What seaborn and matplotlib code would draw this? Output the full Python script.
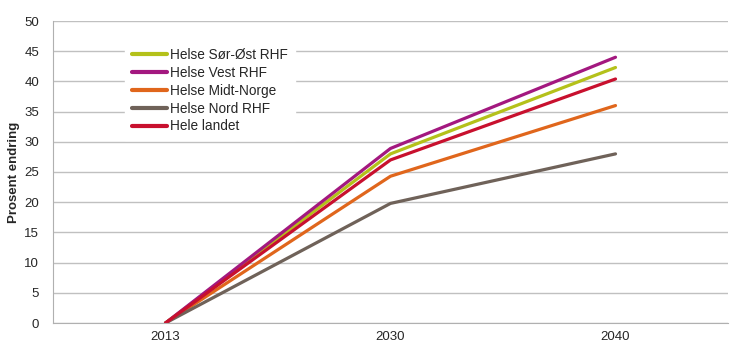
import pandas as pd
import matplotlib.pyplot as plt
import seaborn as sns

years = ['2013', '2030', '2040']
regions = ['Helse Sør-Øst RHF', 'Helse Vest RHF', 'Helse Midt-Norge', 'Helse Nord RHF', 'Hele landet']
sor_ost = [0, 28.0, 42.3]
vest = [0, 28.9, 44.0]
midt = [0, 24.3, 36.0]
nord = [0, 19.8, 28.0]
landet = [0, 27.0, 40.4]
colors = ['#b4c11a', '#a3187f', '#e0661c', '#6f6259', '#c8102e']

rows = []
for name, vals in zip(regions, [sor_ost, vest, midt, nord, landet]):
    for y, v in zip(years, vals):
        rows.append({'year': y, 'value': v, 'region': name})
data = pd.DataFrame(rows)

sns.set_style('white')
plt.rcParams['font.family'] = ['Liberation Sans', 'DejaVu Sans']

fig = plt.figure(figsize=(7.3, 3.62), dpi=100)
ax = fig.add_axes([53/730, 39/362, 675/730, 302/362])

sns.lineplot(data=data, x='year', y='value', hue='region', hue_order=regions,
             palette=colors, linewidth=2.3, ax=ax, sort=False)

ax.set_xlim(-0.5, 2.5)
ax.set_ylim(0, 50)
ax.set_yticks(range(0, 51, 5))
ax.yaxis.grid(True, color='#c0c0c0', linewidth=1)
ax.set_axisbelow(True)
for s in ['top', 'right']:
    ax.spines[s].set_visible(False)
ax.spines['left'].set_color('#b0b0b0')
ax.spines['bottom'].set_color('#b0b0b0')
ax.tick_params(axis='both', labelsize=9.5, length=0, pad=6)
ax.tick_params(axis='y', pad=10)
ax.set_xlabel('')
ax.set_ylabel('Prosent endring', fontsize=9.5, fontweight='bold', labelpad=3)

leg = ax.legend(loc='upper left', bbox_to_anchor=(0.097, 0.955), frameon=True,
                fontsize=9.8, handlelength=2.6, handletextpad=0.2, labelspacing=0.28,
                borderpad=0.5, fancybox=False)
leg.get_frame().set_edgecolor('white')
leg.get_frame().set_facecolor('white')
leg.get_frame().set_alpha(1)
for line in leg.get_lines():
    line.set_linewidth(3)

fig.savefig('out.png', dpi=100)
